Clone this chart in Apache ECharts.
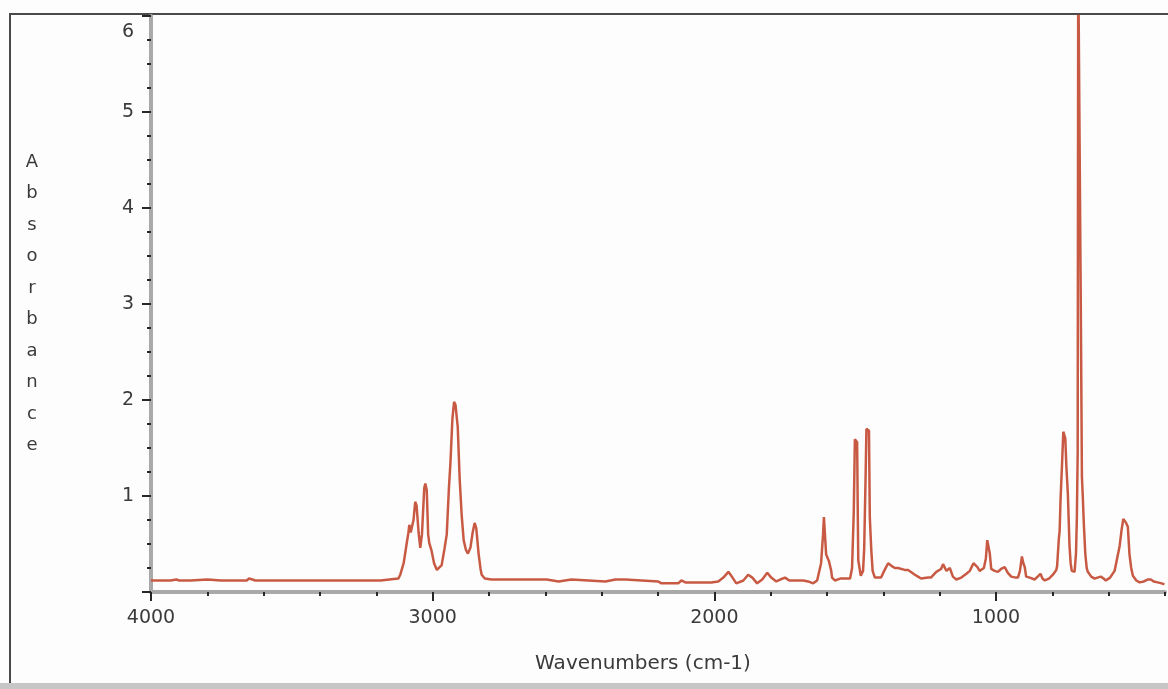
<!DOCTYPE html>
<html>
<head>
<meta charset="utf-8">
<script src="https://cdn.jsdelivr.net/npm/echarts@6.0.0/dist/echarts.min.js"></script>
<style>
  html, body { margin: 0; padding: 0; background: #fdfdfe; }
  #chart { width: 1168px; height: 689px; }
</style>
</head>
<body>
<div id="chart"></div>
<script>
// === DATA ===
const wavenumbers = [
  4000, 3996, 3930, 3910, 3900, 3860, 3855, 3800, 3795, 3752, 3748, 3740, 3660, 3652, 3640, 3630,
  3500, 3400, 3300, 3185, 3180, 3122, 3115, 3103, 3092, 3086, 3083, 3078, 3074, 3068, 3062, 3057,
  3050, 3044, 3038, 3030, 3026, 3021, 3016, 3012, 3004, 2995, 2985, 2978, 2968, 2958, 2950, 2942,
  2937, 2930, 2924, 2919, 2911, 2904, 2897, 2890, 2882, 2875, 2866, 2858, 2851, 2845, 2837, 2830,
  2826, 2815, 2791, 2700, 2624, 2595, 2589, 2553, 2550, 2507, 2503, 2387, 2380, 2351, 2316, 2310,
  2199, 2188, 2128, 2117, 2103, 2011, 1986, 1968, 1950, 1940, 1922, 1897, 1880, 1865, 1848, 1830,
  1812, 1798, 1780, 1766, 1749, 1734, 1684, 1667, 1649, 1635, 1621, 1614, 1611, 1607, 1603, 1593,
  1585, 1582, 1572, 1553, 1518, 1511, 1505, 1501, 1493, 1491, 1489, 1480, 1472, 1468, 1463, 1460,
  1451, 1448, 1443, 1438, 1430, 1408, 1397, 1383, 1370, 1359, 1348, 1324, 1312, 1288, 1277, 1266,
  1241, 1231, 1212, 1195, 1188, 1176, 1164, 1153, 1141, 1123, 1105, 1093, 1080, 1075, 1066, 1058,
  1043, 1036, 1031, 1026, 1022, 1017, 1005, 993, 982, 969, 958, 946, 930, 922, 915, 908,
  903, 898, 893, 880, 863, 852, 842, 835, 827, 812, 798, 786, 783, 777, 774, 771,
  766, 761, 754, 750, 745, 739, 735, 731, 721, 716, 713, 710, 708, 702, 699, 695,
  692, 688, 683, 678, 674, 662, 650, 640, 628, 618, 610, 595, 579, 570, 561, 554,
  548, 544, 538, 532, 526, 520, 514, 502, 490, 475, 462, 450, 440, 426, 412, 402, 400
];
const absorbance = [
  0.12, 0.12, 0.12, 0.13, 0.12, 0.12, 0.13, 0.13, 0.12, 0.12, 0.13, 0.12, 0.12, 0.14, 0.13, 0.12,
  0.12, 0.12, 0.12, 0.12, 0.14, 0.14, 0.18, 0.30, 0.51, 0.62, 0.70, 0.62, 0.60, 0.75, 0.94, 0.90,
  0.62, 0.46, 0.60, 1.08, 1.13, 1.06, 0.60, 0.51, 0.43, 0.30, 0.23, 0.22, 0.28, 0.45, 0.60, 1.10,
  1.34, 1.80, 1.98, 1.95, 1.72, 1.17, 0.80, 0.54, 0.44, 0.40, 0.46, 0.62, 0.72, 0.66, 0.40, 0.24,
  0.18, 0.14, 0.13, 0.13, 0.13, 0.13, 0.11, 0.11, 0.13, 0.13, 0.11, 0.11, 0.12, 0.13, 0.13, 0.11,
  0.11, 0.09, 0.09, 0.12, 0.10, 0.10, 0.11, 0.15, 0.21, 0.17, 0.09, 0.12, 0.18, 0.15, 0.09, 0.13,
  0.20, 0.15, 0.11, 0.13, 0.15, 0.12, 0.12, 0.11, 0.09, 0.12, 0.30, 0.60, 0.78, 0.76, 0.39, 0.32,
  0.22, 0.15, 0.12, 0.14, 0.14, 0.25, 0.83, 1.59, 1.56, 0.90, 0.33, 0.17, 0.22, 0.45, 1.20, 1.70,
  1.68, 0.78, 0.45, 0.22, 0.15, 0.15, 0.22, 0.30, 0.27, 0.25, 0.25, 0.23, 0.23, 0.18, 0.16, 0.14,
  0.15, 0.15, 0.21, 0.24, 0.29, 0.22, 0.25, 0.16, 0.13, 0.15, 0.19, 0.22, 0.30, 0.32, 0.26, 0.22,
  0.25, 0.35, 0.54, 0.46, 0.40, 0.24, 0.22, 0.21, 0.24, 0.26, 0.20, 0.16, 0.15, 0.15, 0.22, 0.37,
  0.30, 0.26, 0.16, 0.15, 0.13, 0.16, 0.19, 0.14, 0.12, 0.14, 0.18, 0.23, 0.27, 0.55, 0.64, 0.95,
  1.30, 1.67, 1.60, 1.30, 1.03, 0.48, 0.30, 0.22, 0.21, 0.40, 0.76, 1.45, 6.60, 6.60, 3.00, 1.20,
  1.00, 0.70, 0.40, 0.25, 0.21, 0.16, 0.14, 0.15, 0.16, 0.14, 0.12, 0.15, 0.22, 0.35, 0.48, 0.65,
  0.76, 0.78, 0.72, 0.68, 0.39, 0.25, 0.17, 0.12, 0.10, 0.11, 0.13, 0.13, 0.11, 0.10, 0.09, 0.08, 0.08
];
const xMajorTicks = [1000, 2000, 3000, 4000];
const yTitleLetters = ['A', 'b', 's', 'o', 'r', 'b', 'a', 'n', 'c', 'e'];

// === STYLE ===
const FONT = 'DejaVu Sans';
const TEXT = '#3a3a3a';
const AXIS_GREY = '#a9a9a9';
const TICK = '#262626';
const TRACE = '#c85a44';

// === RENDER ===
const chart = echarts.init(document.getElementById('chart'));

const points = wavenumbers.map((wn, i) => [wn, absorbance[i]]);

const option = {
  backgroundColor: '#fdfdfe',
  animation: false,
  grid: { left: 151, right: 1, top: 16, bottom: 97 },
  graphic: [
    {
      type: 'rect', silent: true,
      shape: { x: 10, y: 14, width: 1190, height: 720 },
      style: { fill: 'none', stroke: '#4a4a4a', lineWidth: 2 }
    },
    {
      type: 'rect', silent: true,
      shape: { x: 0, y: 683, width: 1168, height: 6 },
      style: { fill: '#c6c6c6' }
    }
  ],
  xAxis: [
    {
      type: 'value',
      position: 'bottom',
      inverse: true,
      min: 400,
      max: 4000,
      interval: 200,
      splitLine: { show: false },
      axisLine: { show: true, lineStyle: { color: AXIS_GREY, width: 4 } },
      axisTick: { show: true, length: 4, lineStyle: { color: TICK, width: 2 } },
      axisLabel: {
        margin: 17,
        fontFamily: FONT,
        fontSize: 19,
        color: TEXT,
        formatter: v => (v % 1000 === 0 ? String(v) : '')
      },
      name: 'Wavenumbers (cm-1)',
      nameLocation: 'middle',
      nameGap: 62,
      nameTextStyle: { fontFamily: FONT, fontSize: 20, color: TEXT, padding: [0, 30, 0, 0] }
    },
    {
      type: 'value',
      position: 'bottom',
      offset: 0,
      inverse: true,
      min: 400,
      max: 4000,
      splitLine: { show: false },
      axisLine: { show: false },
      axisTick: { show: true, length: 9, customValues: xMajorTicks, lineStyle: { color: TICK, width: 2 } },
      axisLabel: { show: false }
    }
  ],
  yAxis: {
    type: 'value',
    min: 0,
    max: 6,
    interval: 1,
    splitLine: { show: false },
    axisLine: { show: true, lineStyle: { color: AXIS_GREY, width: 4 } },
    axisTick: { show: true, length: 9, lineStyle: { color: TICK, width: 2 } },
    minorTick: { show: true, splitNumber: 4, length: 4, lineStyle: { color: TICK, width: 2 } },
    axisLabel: {
      margin: 17,
      fontFamily: FONT,
      fontSize: 19,
      color: TEXT,
      formatter: v => (v === 0 ? '' : (v === 6 ? '{t|6}' : String(v))),
      rich: { t: { fontFamily: FONT, fontSize: 19, color: TEXT, padding: [32, 0, 0, 0] } }
    },
    name: yTitleLetters.join('\n'),
    nameLocation: 'middle',
    nameRotate: 0,
    nameGap: 119,
    nameTextStyle: { fontFamily: FONT, fontSize: 18, lineHeight: 31.5, color: TEXT, align: 'center', verticalAlign: 'middle' }
  },
  series: [
    {
      type: 'line',
      xAxisIndex: 0,
      data: points,
      showSymbol: false,
      clip: true,
      lineStyle: { color: TRACE, width: 2.5 }
    }
  ]
};

chart.setOption(option);
</script>
</body>
</html>
